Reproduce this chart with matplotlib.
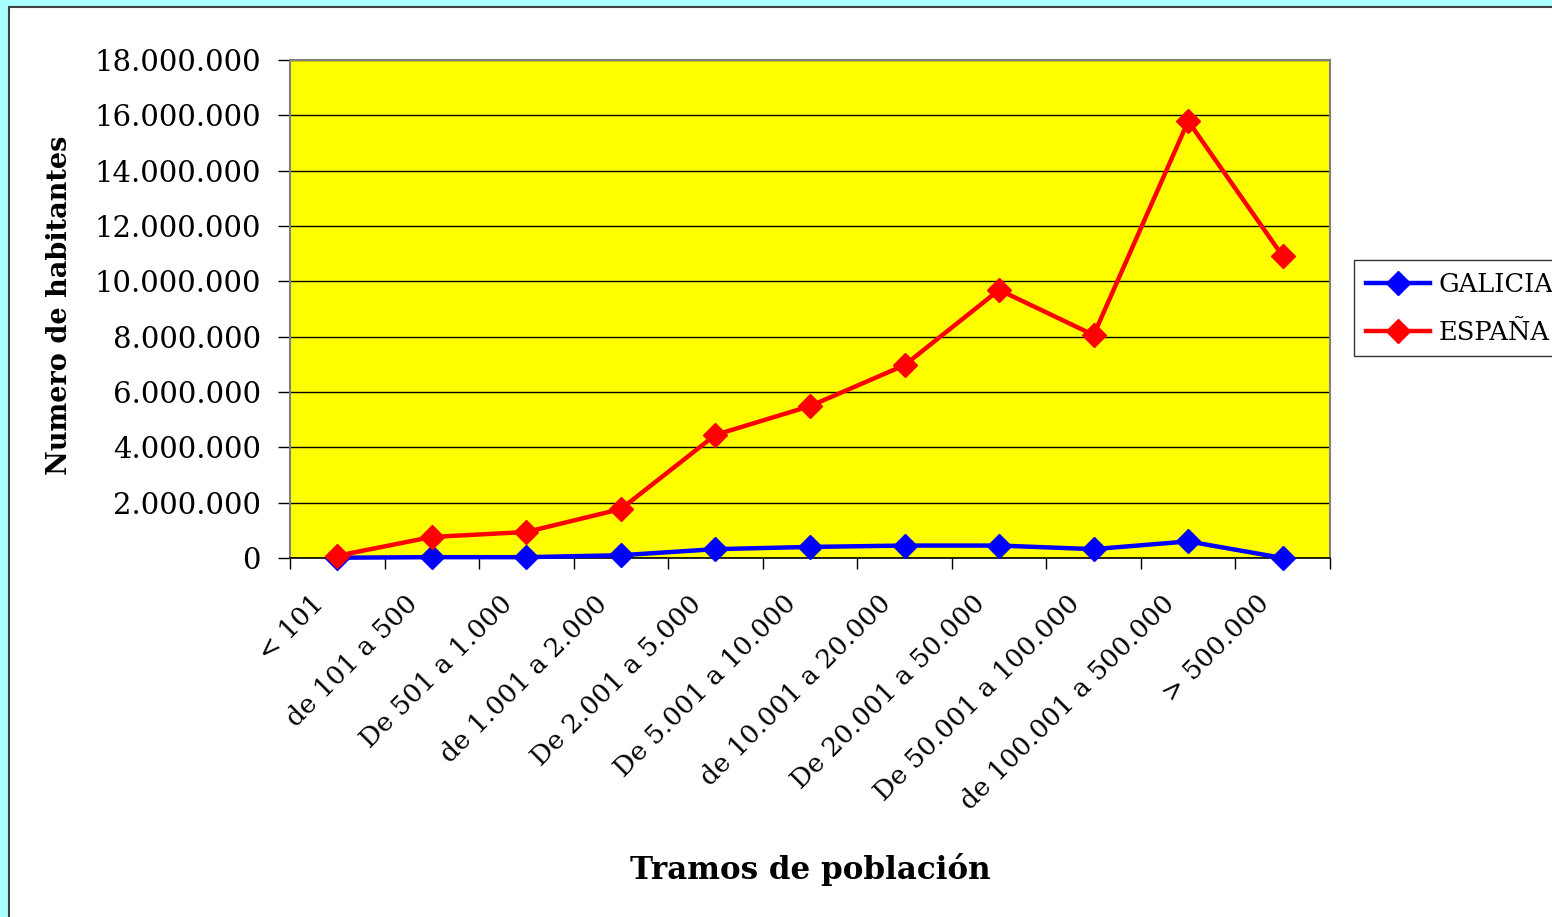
import matplotlib
matplotlib.use("Agg")
import matplotlib.pyplot as plt
import numpy as np
from matplotlib.patches import Rectangle
from matplotlib.ticker import FuncFormatter
from matplotlib.transforms import ScaledTranslation

categories = [
    "< 101", "de 101 a 500", "De 501 a 1.000", "de 1.001 a 2.000",
    "De 2.001 a 5.000", "De 5.001 a 10.000", "de 10.001 a 20.000",
    "De 20.001 a 50.000", "De 50.001 a 100.000", "de 100.001 a 500.000",
    "> 500.000",
]
galicia = [10000, 30000, 30000, 100000, 320000, 400000, 450000, 450000, 320000, 600000, 0]
espana = [80000, 760000, 940000, 1770000, 4450000, 5490000, 6970000, 9690000, 8060000, 15790000, 10910000]

W, H = 1552, 917
plt.rcParams["font.family"] = ["DejaVu Serif"]

fig = plt.figure(figsize=(W / 100, H / 100), dpi=100)
fig.patch.set_facecolor("#a8ffff")
panel = Rectangle((9 / W, -0.01), 1.0, 1.01 - 7 / H, transform=fig.transFigure,
                  facecolor="white", edgecolor="#404040", linewidth=1.5, zorder=-10)
fig.add_artist(panel)

ax = fig.add_axes([290 / W, 1 - 558 / H, 1040 / W, 498 / H])
ax.set_zorder(1)
ax.set_facecolor("#ffff00")
x = np.arange(len(categories))

ax.plot(x, galicia, color="#0000ff", lw=3.2, marker="D", ms=12, label="GALICIA", clip_on=False, zorder=3)
ax.plot(x, espana, color="#ff0000", lw=3.2, marker="D", ms=12, label="ESPAÑA", clip_on=False, zorder=3)

ax.set_xlim(-0.5, len(categories) - 0.5)
ax.set_ylim(0, 18000000)
ax.set_yticks(np.arange(0, 18000001, 2000000))
ax.yaxis.set_major_formatter(FuncFormatter(lambda v, _: f"{v:,.0f}".replace(",", ".")))
ax.grid(axis="y", color="black", lw=1)
ax.set_axisbelow(True)

ax.set_xticks(x)
ax.set_xticklabels(categories, rotation=45, ha="right", va="center", rotation_mode="anchor")
ax.set_xticks(np.arange(-0.5, len(categories), 1), minor=True)
ax.tick_params(axis="x", which="major", length=0, pad=30, labelsize=19)
ax.tick_params(axis="x", which="minor", length=8, width=1, direction="out")
ax.tick_params(axis="y", length=9, width=1, direction="out", labelsize=21, pad=12)
shift = ScaledTranslation(-0.18, 0, fig.dpi_scale_trans)
for label in ax.get_xticklabels():
    label.set_transform(label.get_transform() + shift)

for side in ("left", "right", "top"):
    ax.spines[side].set_color("#808080")
    ax.spines[side].set_linewidth(1.5)
ax.spines["bottom"].set_color("black")
ax.spines["bottom"].set_linewidth(1.2)

fig.text(60 / W, 1 - 305 / H, "Numero de habitantes", rotation=90, ha="center", va="center",
         fontsize=19.5, fontweight="bold")
fig.text(810 / W, 1 - 870 / H, "Tramos de población", ha="center", va="center",
         fontsize=22.3, fontweight="bold")

leg = fig.legend(loc="upper left", bbox_to_anchor=(1354 / W, 1 - 260 / H), fontsize=18.5,
                 frameon=True, fancybox=False, edgecolor="black", handlelength=2.5,
                 borderpad=0.45, labelspacing=0.9, handletextpad=0.35, borderaxespad=0)
leg.get_frame().set_linewidth(1)

fig.savefig("out.png", dpi=100, facecolor=fig.get_facecolor())
